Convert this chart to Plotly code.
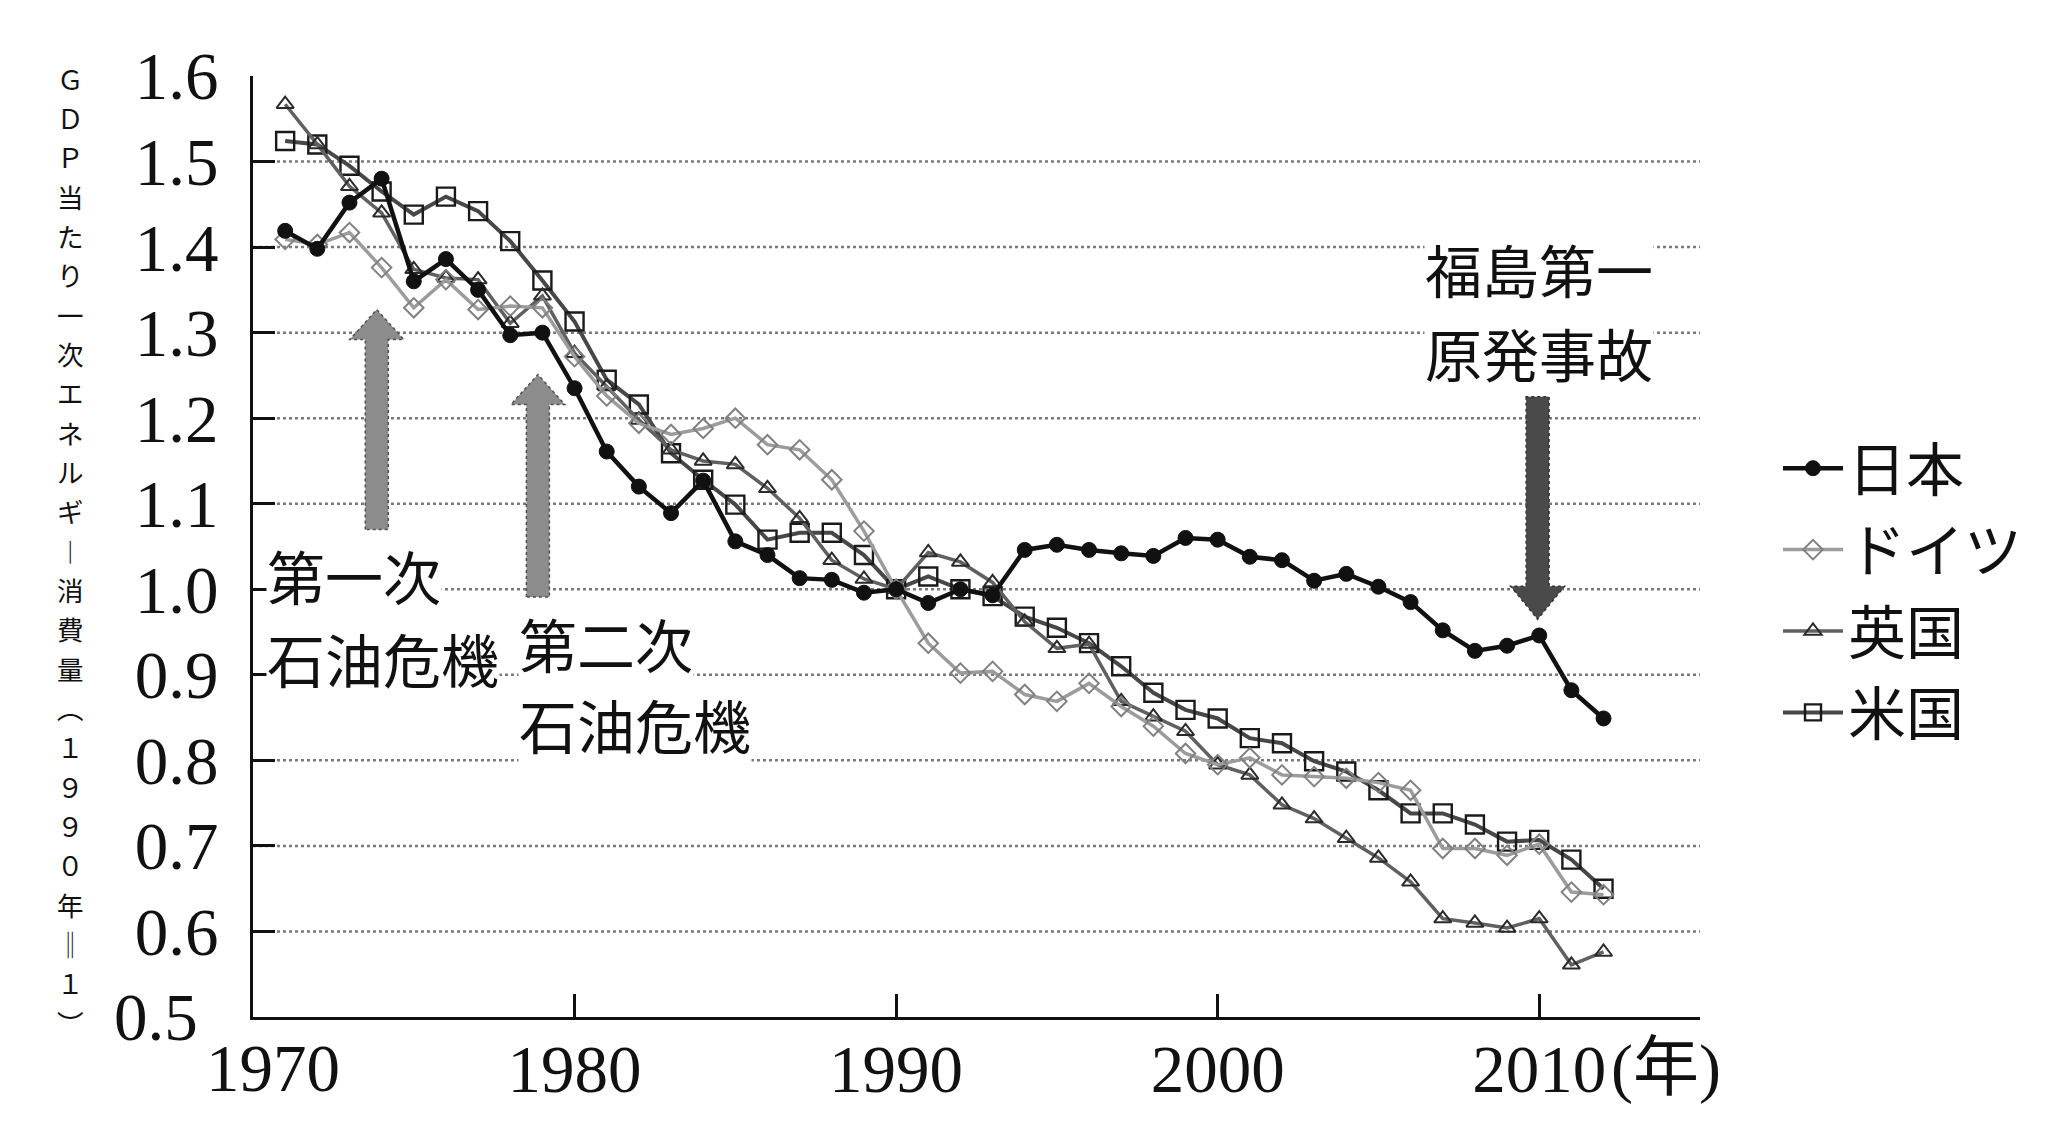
import plotly.graph_objects as go

# ---------------- data ----------------
years = list(range(1971, 2013))

japan = [1.419, 1.398, 1.452, 1.480, 1.360, 1.386, 1.350, 1.297, 1.300, 1.235,
         1.161, 1.120, 1.089, 1.127, 1.056, 1.040, 1.013, 1.011, 0.996, 1.000,
         0.984, 1.000, 0.993, 1.046, 1.052, 1.046, 1.042, 1.039, 1.060, 1.058,
         1.038, 1.034, 1.010, 1.018, 1.003, 0.985, 0.952, 0.928, 0.934, 0.946,
         0.882, 0.849]

germany = [1.409, 1.403, 1.417, 1.376, 1.329, 1.362, 1.327, 1.331, 1.329, 1.272,
           1.226, 1.194, 1.181, 1.188, 1.200, 1.169, 1.163, 1.128, 1.068, 1.000,
           0.937, 0.902, 0.904, 0.877, 0.869, 0.890, 0.863, 0.840, 0.808, 0.795,
           0.803, 0.783, 0.781, 0.779, 0.774, 0.765, 0.697, 0.697, 0.689, 0.702,
           0.646, 0.643]

uk = [1.567, 1.520, 1.471, 1.440, 1.374, 1.364, 1.362, 1.311, 1.343, 1.276,
      1.237, 1.198, 1.163, 1.150, 1.146, 1.118, 1.083, 1.034, 1.012, 1.000,
      1.043, 1.032, 1.008, 0.962, 0.931, 0.936, 0.869, 0.851, 0.834, 0.795,
      0.783, 0.748, 0.732, 0.709, 0.686, 0.658, 0.615, 0.610, 0.604, 0.615,
      0.561, 0.576]

usa = [1.524, 1.520, 1.495, 1.465, 1.438, 1.459, 1.442, 1.407, 1.361, 1.313,
       1.245, 1.216, 1.159, 1.128, 1.099, 1.058, 1.066, 1.066, 1.040, 1.000,
       1.015, 1.000, 0.992, 0.968, 0.955, 0.937, 0.910, 0.879, 0.859, 0.849,
       0.826, 0.820, 0.799, 0.787, 0.765, 0.738, 0.738, 0.725, 0.705, 0.707,
       0.684, 0.650]

series_names = ["日本", "ドイツ", "英国", "米国"]

y_tick_vals = [0.5, 0.6, 0.7, 0.8, 0.9, 1.0, 1.1, 1.2, 1.3, 1.4, 1.5, 1.6]
y_tick_text = ["0.5", "0.6", "0.7", "0.8", "0.9", "1.0", "1.1", "1.2", "1.3", "1.4", "1.5", "1.6"]
grid_vals = [0.6, 0.7, 0.8, 0.9, 1.0, 1.1, 1.2, 1.3, 1.4, 1.5]
x_tick_vals = [1970, 1980, 1990, 2000, 2010]
x_tick_text = ["1970", "1980", "1990", "2000", "2010"]
x_unit = "(年)"
y_title = "ＧＤＰ当たり一次エネルギー消費量（１９９０年＝１）"

crisis1_lines = ["第一次", "石油危機"]
crisis2_lines = ["第二次", "石油危機"]
fukushima_lines = ["福島第一", "原発事故"]

# ---------------- layout geometry ----------------
W, H = 2048, 1132
L, R, T, B = 253, 348, 76, 115
PW, PH = W - L - R, H - T - B

def px(x):
    return (x - L) / PW

def py(y):
    return (H - B - y) / PH

SERIF = "Liberation Serif, Noto Sans CJK JP, serif"
CJK = "Noto Sans CJK JP, sans-serif"
TICK_SIZE = 67

fig = go.Figure()

styles = [
    dict(line=dict(color="#111111", width=4.5),
         marker=dict(symbol="circle", size=15, color="#111111",
                     line=dict(color="#111111", width=1))),
    dict(line=dict(color="#9c9c9c", width=3.5),
         marker=dict(symbol="diamond-open", size=15, color="#808080",
                     line=dict(width=2))),
    dict(line=dict(color="#606060", width=3.5),
         marker=dict(symbol="triangle-up-open", size=15, color="#2a2a2a",
                     line=dict(width=2))),
    dict(line=dict(color="#474747", width=4),
         marker=dict(symbol="square-open", size=18, color="#1a1a1a",
                     line=dict(width=2.4))),
]
values = [japan, germany, uk, usa]

# draw order: US, UK, Germany first, Japan on top; legend order kept by legendrank
for idx in [3, 2, 1, 0]:
    fig.add_trace(go.Scatter(
        x=years, y=values[idx], mode="lines+markers", name=series_names[idx],
        legendgroup=series_names[idx], legendrank=idx + 1,
        line=styles[idx]["line"], marker=styles[idx]["marker"],
    ))

shapes = []
# dotted gridlines
for g in grid_vals:
    shapes.append(dict(type="line", xref="paper", yref="y", x0=0, x1=1, y0=g, y1=g,
                       line=dict(color="#7a7a7a", width=2.5, dash="dot"), layer="below"))

def arrow_path(xc, y_tail, y_tip, shaft_w, head_w, head_h):
    # coordinates in data units (x in years, y in value)
    direction = 1 if y_tip > y_tail else -1
    y_base = y_tip - direction * head_h
    pts = [(xc - shaft_w / 2, y_tail), (xc - shaft_w / 2, y_base), (xc - head_w / 2, y_base),
           (xc, y_tip), (xc + head_w / 2, y_base), (xc + shaft_w / 2, y_base),
           (xc + shaft_w / 2, y_tail)]
    return "M " + " L ".join(f"{a:.4f},{b:.4f}" for a, b in pts) + " Z"

yr_px = PW / 45.0
val_px = PH / 1.1
sw, hw = 23 / yr_px, 54 / yr_px
hh = 30 / val_px
shapes.append(dict(type="path", xref="x", yref="y",
                   path=arrow_path(1973.85, 1.070, 1.327, sw, hw, hh),
                   fillcolor="#8c8c8c", line=dict(color="#505050", width=1.5, dash="dot"), layer="above"))
shapes.append(dict(type="path", xref="x", yref="y",
                   path=arrow_path(1978.86, 0.991, 1.251, sw, hw, hh),
                   fillcolor="#8c8c8c", line=dict(color="#505050", width=1.5, dash="dot"), layer="above"))
shapes.append(dict(type="path", xref="x", yref="y",
                   path=arrow_path(2009.95, 1.225, 0.965, sw, hw, 33 / val_px),
                   fillcolor="#4a4a4a", line=dict(color="#333333", width=1.5, dash="dot"), layer="above"))

annotations = []

def txt(text, x, y, size, xanchor="left", font=CJK, bg="white"):
    annotations.append(dict(text=text, x=px(x), y=py(y), xref="paper", yref="paper",
                            xanchor=xanchor, yanchor="middle", showarrow=False,
                            font=dict(family=font, size=size, color="#111111"),
                            bgcolor=bg, borderpad=0))

txt(crisis1_lines[0], 266, 575, 58)
txt(crisis1_lines[1], 266, 658, 58)
txt(crisis2_lines[0], 518, 643, 58)
txt(crisis2_lines[1], 518, 724, 58)
txt(fukushima_lines[0], 1424, 268, 57)
txt(fukushima_lines[1], 1424, 352, 57)

# "(年)" unit after last x tick label
txt(x_unit, 1610, 1068, 66, font=SERIF, bg="rgba(0,0,0,0)")

# the corner labels ("0.5" and "1970") are placed as annotations, nudged apart so they do not collide
y_axis_text = [""] + y_tick_text[1:]
x_axis_text = [""] + x_tick_text[1:]
txt(y_tick_text[0], 199, 1017, TICK_SIZE, xanchor="right", font=SERIF, bg="rgba(0,0,0,0)")
txt(x_tick_text[0], 273, 1068, TICK_SIZE, xanchor="center", font=SERIF, bg="rgba(0,0,0,0)")

# vertical (tategaki) y-axis title: one character per annotation, stacked
vert_map = {"ー": "︱", "（": "︵", "）": "︶", "＝": "‖"}
chars = [vert_map.get(c, c) for c in y_title]
y_first, y_last = 78, 1022
pitch = (y_last - y_first) / (len(chars) - 1)
for i, c in enumerate(chars):
    annotations.append(dict(text=c, x=px(70), y=py(y_first + i * pitch), xref="paper", yref="paper",
                            xanchor="center", yanchor="middle", showarrow=False,
                            font=dict(family=CJK, size=26.5, color="#111111")))

fig.update_layout(
    width=W, height=H,
    margin=dict(l=L, r=R, t=T, b=B, pad=0),
    paper_bgcolor="white", plot_bgcolor="white",
    showlegend=True,
    legend=dict(x=px(1778), y=py(424), xanchor="left", yanchor="top",
                font=dict(family=CJK, size=58, color="#111111"),
                traceorder="grouped", tracegroupgap=3, itemwidth=60,
                bgcolor="rgba(0,0,0,0)"),
    xaxis=dict(range=[1970, 2015], showgrid=False, zeroline=False,
               showline=True, linecolor="#111111", linewidth=3,
               tickmode="array", tickvals=x_tick_vals, ticktext=x_axis_text,
               ticks="inside", ticklen=23, tickwidth=2.5, tickcolor="#111111",
               tickfont=dict(family=SERIF, size=TICK_SIZE, color="#111111"),
               ticklabelstandoff=-8),
    yaxis=dict(range=[0.5, 1.6], showgrid=False, zeroline=False,
               showline=True, linecolor="#111111", linewidth=3,
               tickmode="array", tickvals=y_tick_vals, ticktext=y_axis_text,
               ticks="inside", ticklen=22, tickwidth=2.5, tickcolor="#111111",
               tickfont=dict(family=SERIF, size=TICK_SIZE, color="#111111"),
               ticklabelstandoff=18),
    shapes=shapes,
    annotations=annotations,
)

fig.write_html("out.html")
